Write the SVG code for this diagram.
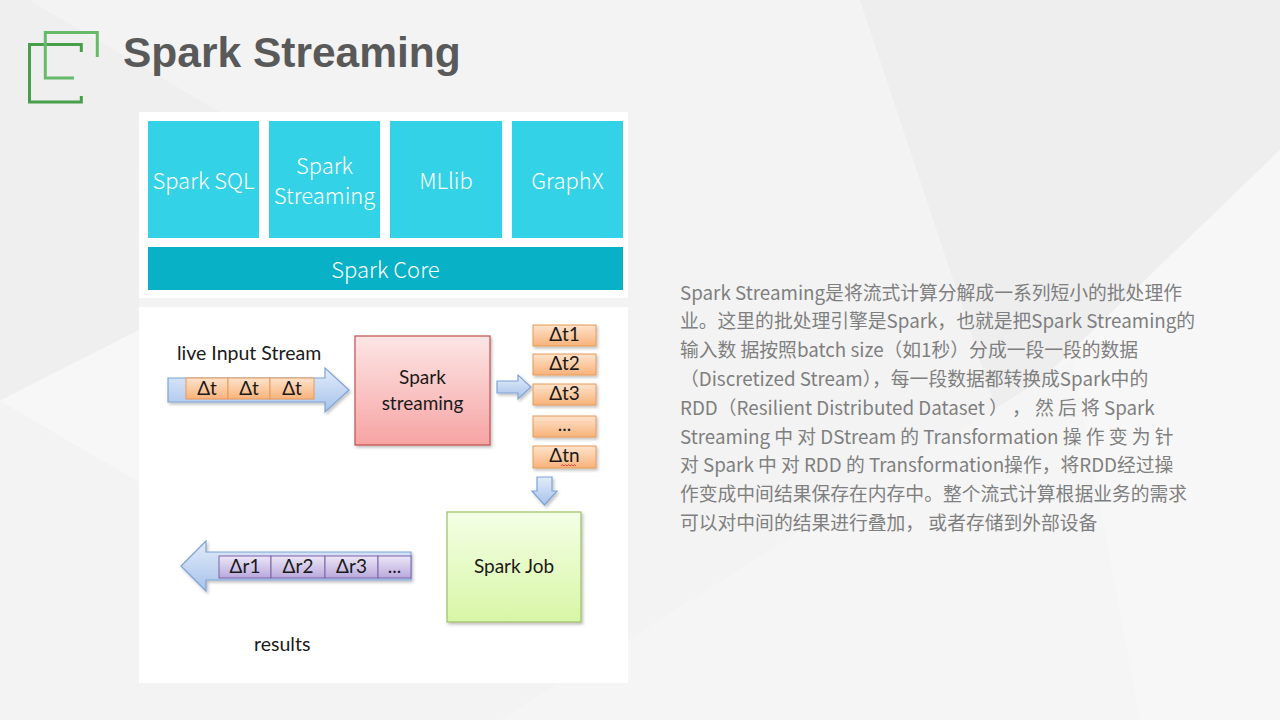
<svg xmlns="http://www.w3.org/2000/svg" width="1280" height="720" viewBox="0 0 1280 720">
<defs>
<style>
.blk{fill:#33d2e6}
.core{fill:#08b1c6}
.wt{font-family:"Noto Sans CJK SC","Noto Sans",sans-serif;font-weight:300;font-size:22px;fill:#ffffff;text-anchor:middle}
.dt{font-family:Lato,"Liberation Sans",sans-serif;font-size:19px;fill:#1a1a1a;text-anchor:middle}
.lbl{font-family:Lato,"Liberation Sans",sans-serif;font-size:19.5px;fill:#1a1a1a}
.ob{fill:url(#gOr);stroke:#e59a5a;stroke-width:1}
.pb{fill:url(#gPu);stroke:#7c62a8;stroke-width:1}
.barrow{fill:url(#gBl);stroke:#7fa3d6;stroke-width:1.2}
.para{font-family:"Noto Sans CJK SC","Noto Sans",sans-serif;font-size:18.8px;fill:#7f7f7f}
</style>
<linearGradient id="gOr" x1="0" y1="0" x2="0" y2="1"><stop offset="0" stop-color="#fde3cc"/><stop offset="1" stop-color="#f9b27a"/></linearGradient>
<linearGradient id="gPu" x1="0" y1="0" x2="0" y2="1"><stop offset="0" stop-color="#ece6f6"/><stop offset="1" stop-color="#b9a9dc"/></linearGradient>
<linearGradient id="gBl" x1="0" y1="0" x2="0" y2="1"><stop offset="0" stop-color="#e2ecfa"/><stop offset="1" stop-color="#a7c2ea"/></linearGradient>
<linearGradient id="gPk" x1="0" y1="0" x2="0" y2="1"><stop offset="0" stop-color="#fde6e6"/><stop offset="1" stop-color="#f7a3a3"/></linearGradient>
<linearGradient id="gGr" x1="0" y1="0" x2="0" y2="1"><stop offset="0" stop-color="#f4ffe6"/><stop offset="1" stop-color="#d8f6a6"/></linearGradient>
<filter id="sh" x="-10%" y="-10%" width="130%" height="130%"><feDropShadow dx="1.5" dy="2" stdDeviation="1.5" flood-color="#000" flood-opacity="0.25"/></filter>
</defs>

<!-- background -->
<rect x="0" y="0" width="1280" height="720" fill="#f3f3f3"/>
<polygon points="0,0 29,0 225,115 139,300 139,330 0,400" fill="#efefef"/>
<polygon points="0,401 139,330 139,482" fill="#f7f7f7"/>
<polygon points="860,0 1280,0 1280,150 1000,420" fill="#eeeeee"/>
<polygon points="1000,420 1280,150 1280,720 1140,720" fill="#f7f7f7"/>
<polygon points="500,720 1073,360 1140,720" fill="#f5f5f5"/>

<!-- logo -->
<g id="logo" fill="none" stroke-linecap="butt" stroke-linejoin="miter">
<path d="M81.3,52 V44.5 H29.5 V102 H81.3 V96" stroke="#45a049" stroke-width="3"/>
<path d="M97.3,57 V32.5 H45.3 V78 H74" stroke="#66bb6a" stroke-width="3"/>
</g>

<g id="title">
<text x="123" y="67" font-family="'Liberation Sans',Arial,sans-serif" font-weight="bold" font-size="42.5" fill="#595959">Spark Streaming</text>
</g>

<!-- top panel: Spark stack -->
<g id="stack-panel">
<rect x="139" y="112" width="489" height="186" fill="#ffffff"/>
</g>
<g id="spark-sql"><rect class="blk" x="148" y="121" width="111" height="117"/><text class="wt" x="203.5" y="189">Spark SQL</text></g>
<g id="spark-streaming"><rect class="blk" x="269" y="121" width="111" height="117"/><text class="wt" x="324.5" y="174">Spark</text><text class="wt" x="324.5" y="204">Streaming</text></g>
<g id="mllib"><rect class="blk" x="390" y="121" width="112" height="117"/><text class="wt" x="446" y="189">MLlib</text></g>
<g id="graphx"><rect class="blk" x="512" y="121" width="111" height="117"/><text class="wt" x="567.5" y="189">GraphX</text></g>
<g id="spark-core"><rect class="core" x="148" y="247" width="475" height="43"/><text class="wt" x="385.5" y="278">Spark Core</text></g>

<!-- lower panel -->
<g id="flow-panel">
<rect x="139" y="307" width="489" height="376" fill="#ffffff"/>
</g>

<g id="input-label"><text class="lbl" x="177" y="360">live Input Stream</text></g>

<g id="connectors">
<path class="barrow" filter="url(#sh)" d="M168,378 H325 V368 L349,390 L325,412 V402 H168 Z"/>
<path class="barrow" filter="url(#sh)" d="M497,381 H518 V375 L531,387 L518,399 V393 H497 Z"/>
<path class="barrow" filter="url(#sh)" d="M537,477 H552 V491 H557 L544.5,505 L532,491 H537 Z"/>
<path class="barrow" filter="url(#sh)" d="M181,566 L206,541 V552 H411 V580 H206 V591 Z"/>
</g>

<g id="input-stream">
<rect class="ob" x="186" y="378" width="42" height="21"/>
<rect class="ob" x="228" y="378" width="42" height="21"/>
<rect class="ob" x="270" y="378" width="44" height="21"/>
<text class="dt" x="207" y="394.5">Δt</text>
<text class="dt" x="249" y="394.5">Δt</text>
<text class="dt" x="292" y="394.5">Δt</text>
</g>

<g id="spark-streaming-box">
<rect x="355" y="336" width="135" height="109" fill="url(#gPk)" stroke="#c0504d" stroke-width="1.2" filter="url(#sh)"/>
<text class="dt" x="422.5" y="384">Spark</text>
<text class="dt" x="422.5" y="410">streaming</text>
</g>

<g id="batches">
<rect class="ob" x="533" y="325" width="63" height="21" filter="url(#sh)"/>
<rect class="ob" x="533" y="354" width="63" height="21" filter="url(#sh)"/>
<rect class="ob" x="533" y="384" width="63" height="21" filter="url(#sh)"/>
<rect class="ob" x="533" y="416" width="63" height="21" filter="url(#sh)"/>
<rect class="ob" x="533" y="446" width="63" height="22" filter="url(#sh)"/>
<text class="dt" x="564.5" y="341">Δt1</text>
<text class="dt" x="564.5" y="370">Δt2</text>
<text class="dt" x="564.5" y="400">Δt3</text>
<text class="dt" x="564.5" y="431">...</text>
<text class="dt" x="564.5" y="462">Δtn</text>
<path d="M561,466 l1.5,-1.5 l1.5,1.5 l1.5,-1.5 l1.5,1.5 l1.5,-1.5 l1.5,1.5 l1.5,-1.5 l1.5,1.5 l1.5,-1.5 l1.5,1.5" fill="none" stroke="#e03030" stroke-width="0.8"/>
</g>

<g id="spark-job">
<rect x="447" y="512" width="134" height="110" fill="url(#gGr)" stroke="#9cc063" stroke-width="1.2" filter="url(#sh)"/>
<text class="dt" x="514" y="573">Spark Job</text>
</g>

<g id="results">
<rect class="pb" x="219" y="556" width="52" height="22"/>
<rect class="pb" x="271" y="556" width="54" height="22"/>
<rect class="pb" x="325" y="556" width="53" height="22"/>
<rect class="pb" x="378" y="556" width="33" height="22"/>
<text class="dt" x="245" y="573">Δr1</text>
<text class="dt" x="298" y="573">Δr2</text>
<text class="dt" x="351.5" y="573">Δr3</text>
<text class="dt" x="394.5" y="573">...</text>
<text class="lbl" x="254" y="651">results</text>
</g>

<g id="description">
<text class="para" x="680" y="299.5">Spark Streaming是将流式计算分解成一系列短小的批处理作</text>
<text class="para" x="680" y="328.3">业。这里的批处理引擎是Spark，也就是把Spark Streaming的</text>
<text class="para" x="680" y="357.1">输入数 据按照batch size（如1秒）分成一段一段的数据</text>
<text class="para" x="680" y="385.9">（Discretized Stream），每一段数据都转换成Spark中的</text>
<text class="para" x="680" y="414.7">RDD（Resilient Distributed Dataset ） ， 然 后 将 Spark</text>
<text class="para" x="680" y="443.5">Streaming 中 对 DStream 的 Transformation 操 作 变 为 针</text>
<text class="para" x="680" y="472.3">对 Spark 中 对 RDD 的 Transformation操作，将RDD经过操</text>
<text class="para" x="680" y="501.1">作变成中间结果保存在内存中。整个流式计算根据业务的需求</text>
<text class="para" x="680" y="529.9">可以对中间的结果进行叠加， 或者存储到外部设备</text>
</g>
</svg>
